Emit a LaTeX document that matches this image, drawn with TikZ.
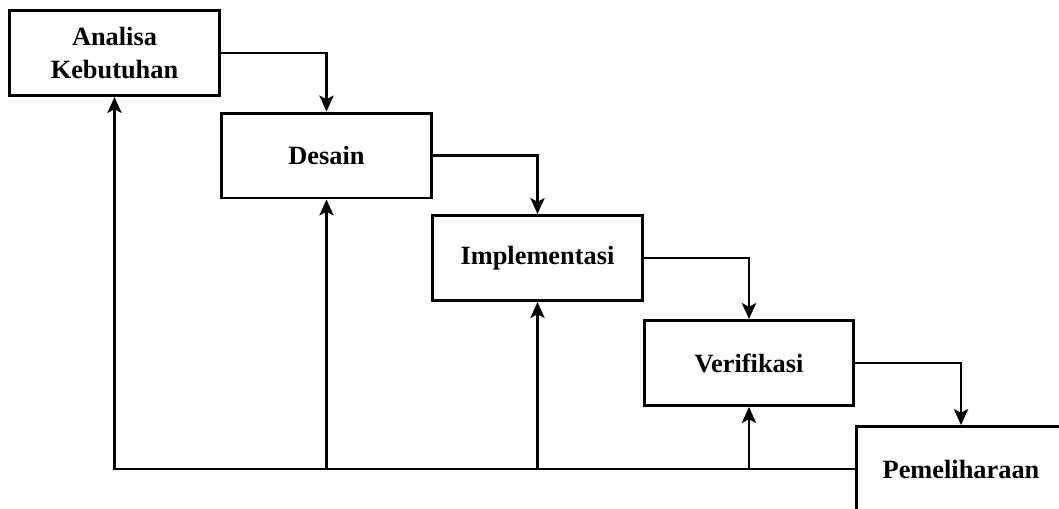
\documentclass[tikz,border=0pt]{standalone}
\usepackage{fontspec}
\setmainfont{Liberation Serif}
\usetikzlibrary{arrows.meta}
\begin{document}
\begin{tikzpicture}[
    x=0.02cm, y=-0.02cm,
    phase/.style={draw, line width=1.7pt, minimum width=4.2cm, minimum height=1.7cm,
      align=center, font=\fontsize{15}{18.5}\selectfont\bfseries, fill=white},
    flow/.style={line width=1.6pt, -{Stealth[length=9pt, width=8pt, inset=2pt]}},
  ]
    \useasboundingbox (0,0) rectangle (1059,508);
    \clip (0,0) rectangle (1059,508);
    \node[phase] (analisa) at (114.5,53) {Analisa\\Kebutuhan};
    \node[phase] (desain)  at (326.5,155.5) {Desain};
    \node[phase] (impl)    at (537.5,258) {Implementasi};
    \node[phase] (verif)   at (749,363) {Verifikasi};
    \node[phase] (pelihara) at (961,469) {Pemeliharaan};
    % alur turun
    \draw[flow] (analisa.east) -| (desain.north);
    \draw[flow] (desain.east) -| (impl.north);
    \draw[flow] (impl.east) -| (verif.north);
    \draw[flow] (verif.east) -| (pelihara.north);
    % alur balik
    \draw[flow] (pelihara.west) -| (analisa.south);
    \draw[flow] (desain.south |- pelihara.west) -- (desain.south);
    \draw[flow] (impl.south |- pelihara.west) -- (impl.south);
    \draw[flow] (verif.south |- pelihara.west) -- (verif.south);
  \end{tikzpicture}
\end{document}
